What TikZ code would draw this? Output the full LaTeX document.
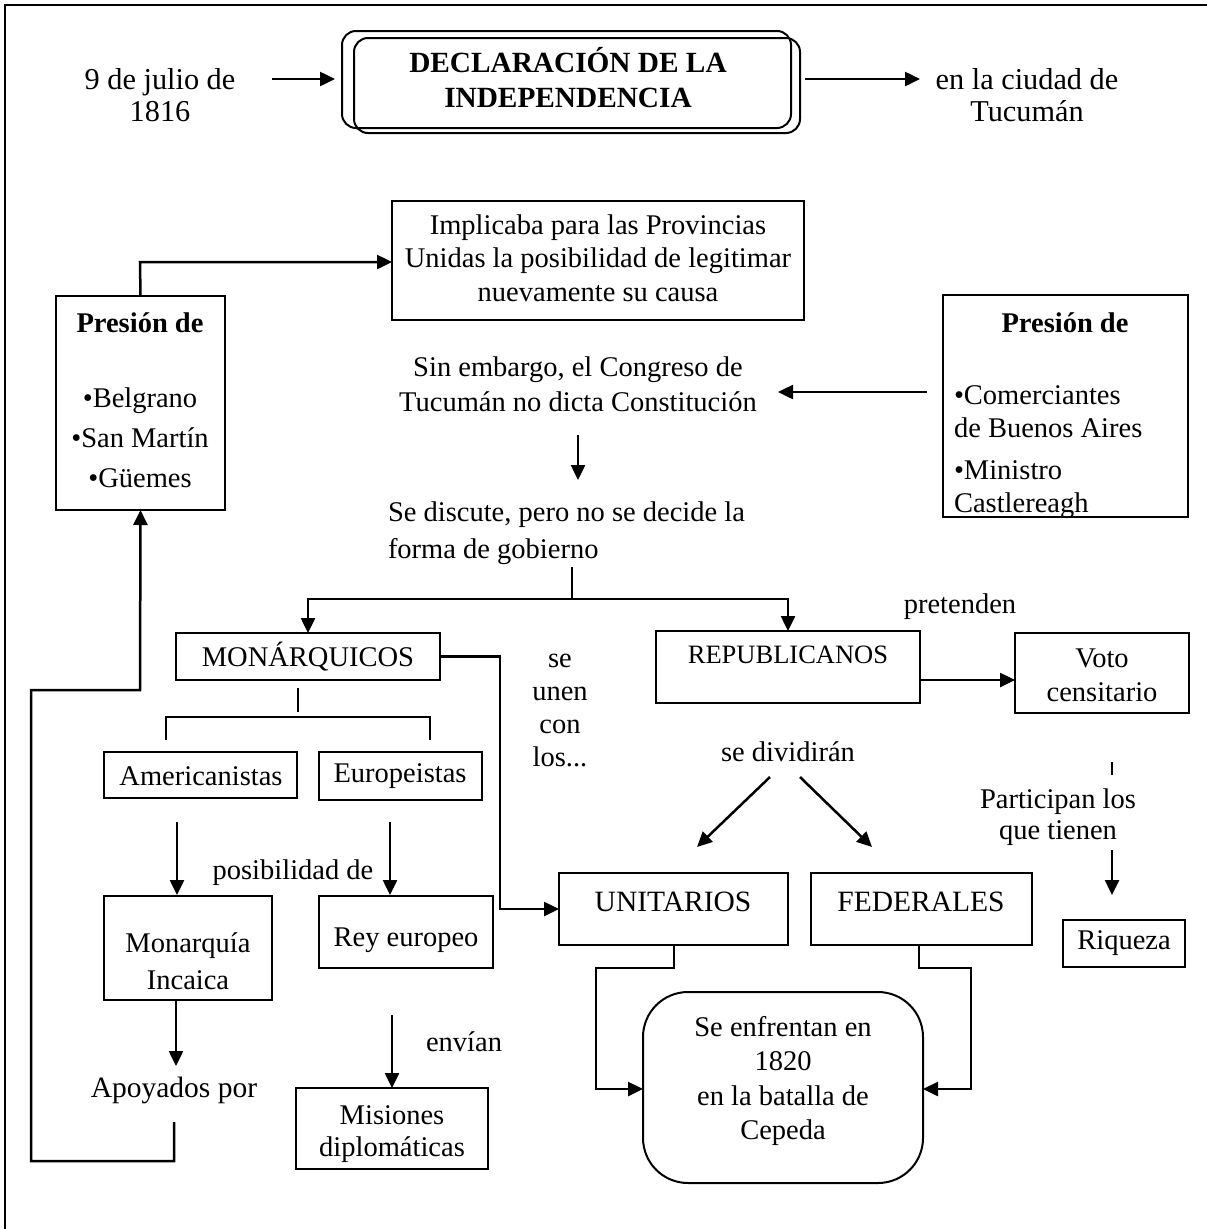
\documentclass[tikz,border=0pt]{standalone}
\usepackage{fontspec}
\setmainfont{Liberation Serif}
\usetikzlibrary{arrows.meta,calc}

% box from corner (x1,y1) to corner (x2,y2), in pixel-like units
\newcommand\mkbox[6][]{%
  \pgfmathsetmacro\bw{#5-#3}\pgfmathsetmacro\bh{#6-#4}%
  \pgfmathsetmacro\bcx{(#3+#5)/2}\pgfmathsetmacro\bcy{(#4+#6)/2}%
  \node[boxst,#1,minimum width=\bw pt,minimum height=\bh pt] (#2) at (\bcx,\bcy) {};}

\begin{document}
\begin{tikzpicture}[x=1pt,y=-1pt,
  every node/.style={inner sep=0pt,outer sep=0pt},
  txt/.style={align=center,font=\fontsize{28.5}{33}\selectfont},
  boxst/.style={draw,line width=2pt},
  conn/.style={line width=2.5pt},
  arr/.style={line width=2.5pt,-{Triangle[length=15pt,width=14pt]}}]

\useasboundingbox (0,0) rectangle (1207,1229);
% page frame
\draw[line width=2.4pt] (1207,5) -- (5,5) -- (5,1229);

% heading
\mkbox[rounded corners=14pt]{titleA}{342}{31}{791}{128}
\mkbox[rounded corners=14pt]{titleB}{354}{38}{800}{133}
\node[txt,font=\bfseries\fontsize{29.3}{35}\selectfont] (title) at (568,78) {DECLARACIÓN DE LA\\INDEPENDENCIA};
\node[txt,font=\fontsize{30.3}{32}\selectfont] (date) at (160,95) {9 de julio de\\1816};
\node[txt,font=\fontsize{30.3}{32}\selectfont] (city) at (1027,95) {en la ciudad de\\Tucumán};
\coordinate (a1) at (272,79);
\coordinate (a1e) at (335,79);
\draw[arr] (a1) -- (a1e);
\coordinate (a2) at (805,79);
\coordinate (a2e) at (920,79);
\draw[arr] (a2) -- (a2e);

% implication box
\mkbox{implic}{392}{201}{804}{320}
\node[txt,font=\fontsize{28.5}{33.5}\selectfont] at (598,258) {Implicaba para las Provincias\\Unidas la posibilidad de legitimar\\nuevamente su causa};

% left pressure box
\mkbox{presL}{56}{296}{225}{510}
\node[txt,font=\bfseries\fontsize{28.5}{33}\selectfont] at (140,323) {Presión de};
\node[txt,font=\fontsize{28.5}{40}\selectfont] at (140,438) {•Belgrano\\•San Martín\\•Güemes};
\coordinate (pl) at (140,262);
\draw[arr] (presL.north) -- (pl) -- (pl -| implic.west);

% right pressure box
\mkbox{presR}{943}{295}{1188}{517}
\node[txt,font=\bfseries\fontsize{28.5}{33}\selectfont] at (1065,323) {Presión de};
\node[txt,align=left,anchor=west] at (954,452) {•Comerciantes\\de Buenos Aires\\[9pt]•Ministro\\Castlereagh};

% congress
\node[txt,font=\fontsize{28.5}{35}\selectfont] (sinemb) at (578,384) {Sin embargo, el Congreso de\\Tucumán no dicta Constitución};
\coordinate (pr) at (927,392);
\coordinate (pre) at (778,392);
\draw[arr] (pr) -- (pre);
\coordinate (d1) at (578,435);
\coordinate (d1e) at (578,480);
\draw[arr] (d1) -- (d1e);
\node[txt,align=left,anchor=west,font=\fontsize{28.5}{37}\selectfont] (discute) at (388,533) {Se discute, pero no se decide la\\forma de gobierno};

% split into the two groups
\mkbox{mon}{176}{633}{440}{680}
\node[txt] at (308,657) {MONÁRQUICOS};
\mkbox{rep}{656}{631}{920}{703}
\node[txt,font=\fontsize{26.5}{30}\selectfont] at (788,655) {REPUBLICANOS};
\coordinate (sp) at (572,567);
\coordinate (sh) at (572,599);
\coordinate (shr) at (788,631);
\draw[conn] (sp) -- (sh);
\draw[arr] (sh) -| (mon.north);
\draw[arr] (sh) -| (shr);

\node[txt] at (960,607) {pretenden};
\mkbox{voto}{1015}{633}{1189}{713}
\node[txt,font=\fontsize{28.5}{34}\selectfont] at (1102,675) {Voto\\censitario};
\coordinate (rv) at (920,680);
\draw[arr] (rv) -- (rv -| voto.west);

\coordinate (t1) at (1112,762);
\coordinate (t1e) at (1112,775);
\draw[conn] (t1) -- (t1e);
\node[txt,font=\fontsize{28.5}{31}\selectfont] at (1058,817) {Participan los\\que tienen};
\coordinate (t2) at (1112,850);
\coordinate (t2e) at (1112,895);
\draw[arr] (t2) -- (t2e);
\mkbox{riq}{1063}{920}{1185}{967}
\node[txt] at (1124,943) {Riqueza};

% monarchist branches
\node[txt,font=\fontsize{28.5}{33}\selectfont] at (560,710) {se\\unen\\con\\los...};
\coordinate (m1) at (298,688);
\coordinate (m1e) at (298,712);
\draw[conn] (m1) -- (m1e);
\coordinate (ml) at (166,740);
\coordinate (mr) at (430,740);
\draw[conn] (ml) |- (298,717) -| (mr);
\mkbox{amer}{104}{752}{297}{798}
\node[txt] at (201,776) {Americanistas};
\mkbox{eur}{319}{752}{482}{800}
\node[txt] at (400,776) {Europeistas};
\coordinate (am1) at (177,822);
\coordinate (am1e) at (177,895);
\draw[arr] (am1) -- (am1e);
\coordinate (eu1) at (390,822);
\coordinate (eu1e) at (390,895);
\draw[arr] (eu1) -- (eu1e);
\node[txt] at (293,873) {posibilidad de};
\mkbox{monI}{104}{896}{272}{1000}
\node[txt,font=\fontsize{28.5}{37}\selectfont] at (188,961) {Monarquía\\Incaica};
\mkbox{rey}{319}{896}{493}{968}
\node[txt] at (406,940) {Rey europeo};
\coordinate (ap) at (176,1066);
\draw[arr] (monI.south -| ap) -- (ap);
\node[txt,font=\fontsize{29.5}{33}\selectfont] (apoy) at (174,1090) {Apoyados por};
\coordinate (lp) at (174,1122);
\draw[arr] (lp) -- (174,1161) -- (31,1161) -- (31,690) -- (140,690) -- (presL.south);
\mkbox{mis}{296}{1088}{488}{1169}
\node[txt,font=\fontsize{28.5}{32}\selectfont] at (392,1134) {Misiones\\diplomáticas};
\node[txt] at (464,1042) {envían};
\coordinate (en) at (392,1015);
\draw[arr] (en) -- (en |- mis.north);

% republican split
\node[txt] at (788,752) {se dividirán};
\coordinate (s1) at (770,777);
\coordinate (s1e) at (697,847);
\coordinate (s2) at (800,777);
\coordinate (s2e) at (872,847);
\draw[arr] (s1) -- (s1e);
\draw[arr] (s2) -- (s2e);
\mkbox{unit}{559}{873}{788}{945}
\node[txt,font=\fontsize{29.5}{33}\selectfont] at (673,902) {UNITARIOS};
\mkbox{fed}{811}{873}{1032}{945}
\node[txt,font=\fontsize{29.5}{33}\selectfont] at (921,902) {FEDERALES};
\coordinate (mu) at (500,909);
\draw[arr] (mon.east) -| (mu) -- (mu -| unit.west);

\mkbox[rounded corners=45pt]{cep}{643}{992}{923}{1183}
\node[txt,font=\fontsize{28.5}{34.3}\selectfont] at (783,1081) {Se enfrentan en\\1820\\en la batalla de\\Cepeda};
\coordinate (uc) at (674,968);
\coordinate (fc) at (919,968);
\coordinate (ul) at (596,1089);
\coordinate (fr) at (971,1089);
\draw[arr] (uc |- unit.south) -- (uc) -| (ul) -- (ul -| cep.west);
\draw[arr] (fc |- fed.south) -- (fc) -| (fr) -- (fr -| cep.east);
\end{tikzpicture}
\end{document}
